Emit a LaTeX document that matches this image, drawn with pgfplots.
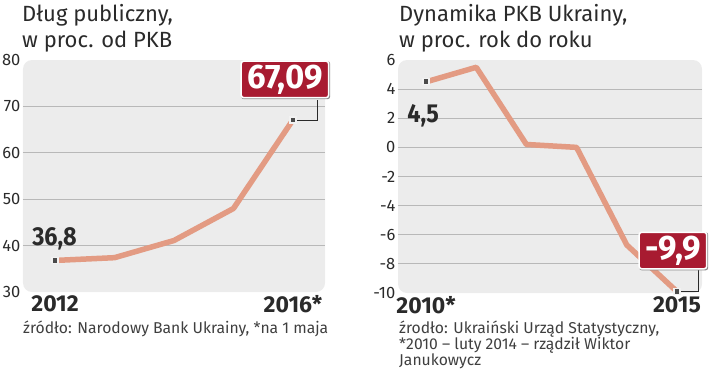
\documentclass[border=0pt]{standalone}
\usepackage{fontspec}
\setmainfont{Fira Sans}
\newfontfamily\condb[FakeStretch=0.9]{Fira Sans}
\newfontfamily\boxb[FakeStretch=0.97]{Fira Sans}
\usepackage{pgfplots}
\pgfplotsset{compat=1.18}
\definecolor{linec}{HTML}{E39B83}
\definecolor{bgc}{HTML}{ECECEC}
\definecolor{gridc}{HTML}{B8B8B8}
\definecolor{boxred}{HTML}{A81B31}
\definecolor{txt}{HTML}{2A2A2A}
\pgfplotsset{
  panel/.style={
    scale only axis, anchor=south west, clip=false,
    axis line style={draw=none},
    major tick style={draw=none}, minor tick style={draw=none},
    axis background/.style={fill=bgc, rounded corners=9bp},
    ymajorgrids, grid style={gridc, line width=0.8bp},
    extra y tick style={grid=none},
    /pgf/number format/assume math mode=true,
    yticklabel style={font=\fontsize{16.5bp}{16.5bp}\selectfont, text=txt, inner sep=2.5bp},
    xticklabel style={font=\bfseries\fontsize{23bp}{23bp}\selectfont, text=txt, inner sep=3bp},
  },
  dline/.style={linec, line width=5.5bp, line join=round},
  dmark/.style={only marks, mark=square*, mark size=3bp, mark options={fill=txt!85, draw=white!90!gray, line width=1.3bp}},
}
\tikzset{
  bigbox/.style={fill=boxred, draw=white, line width=1.5bp, rounded corners=2.5bp, text=white, inner xsep=6bp, inner ysep=3.5bp,
    font=\boxb\bfseries\fontsize{34bp}{34bp}\selectfont},
  shbox/.style={fill=black!45, draw=none, rounded corners=2.5bp, text=black!45, inner xsep=6.75bp, inner ysep=4.25bp,
    font=\boxb\bfseries\fontsize{34bp}{34bp}\selectfont},
  smlab/.style={text=txt, inner sep=0pt, font=\condb\bfseries\fontsize{26bp}{26bp}\selectfont},
  ttl/.style={anchor=base west, inner sep=0pt, text=txt, font=\fontsize{22bp}{22bp}\selectfont},
  src/.style={anchor=base west, inner sep=0pt, text=txt!90, font=\fontsize{15.7bp}{15.7bp}\selectfont},
}
\begin{document}
\begin{tikzpicture}
\path[use as bounding box] (0,0) rectangle (720bp,-371bp);
% titles
\node[ttl] at (22bp,-21bp) {Dług publiczny,};
\node[ttl] at (22bp,-47bp) {w proc. od PKB};
\node[ttl] at (399bp,-21bp) {Dynamika PKB Ukrainy,};
\node[ttl] at (399bp,-47bp) {w proc. rok do roku};
% sources
\node[src] at (23bp,-333bp) {źródło: Narodowy Bank Ukrainy, *na 1 maja};
\node[src] at (399bp,-333bp) {źrodło: Ukraiński Urząd Statystyczny,};
\node[src] at (399bp,-349bp) {*2010 – luty 2014 – rządził Wiktor};
\node[src] at (399bp,-365bp) {Janukowycz};

% left panel: x = year - 2012
\begin{axis}[panel, at={(23bp,-292bp)}, width=302bp, height=232bp,
  xmin=-0.54, xmax=4.54, ymin=30, ymax=80,
  ytick={40,50,60,70}, extra y ticks={30,80},
  xtick={0,4}, xticklabels={2012,2016*}]
\addplot[dline] coordinates {(0,36.8) (1,37.4) (2,41.1) (3,48.0) (4,67.09)};
\addplot[dmark] coordinates {(0,36.8) (4,67.09)};
\draw[txt, line width=0.8bp] ([xshift=4bp]axis cs:4,67.09) -- ([xshift=24bp]axis cs:4,67.09) -- ([xshift=24bp,yshift=20bp]axis cs:4,67.09);
\node[shbox] at ([xshift=-7.2bp, yshift=39.7bp]axis cs:4,67.09) {67,09};
\node[bigbox] at ([xshift=-8bp, yshift=40.5bp]axis cs:4,67.09) {67,09};
\node[smlab, anchor=base west] at ([xshift=-23bp, yshift=15bp]axis cs:0,36.8) {36,8};
\end{axis}

% right panel: x = year - 2010
\begin{axis}[panel, at={(398bp,-293bp)}, width=304bp, height=233bp,
  xmin=-0.56, xmax=5.5, ymin=-10, ymax=6,
  ytick={-8,-6,-4,-2,0,2,4}, extra y ticks={-10,6},
  xtick={0,5}, xticklabels={2010*,2015}]
\addplot[dline] coordinates {(0,4.5) (1,5.5) (2,0.2) (3,0.0) (4,-6.7) (5,-9.9)};
\addplot[dmark] coordinates {(0,4.5) (5,-9.9)};
\draw[txt, line width=0.8bp] ([xshift=4bp]axis cs:5,-9.9) -- ([xshift=21bp]axis cs:5,-9.9) -- ([xshift=21bp,yshift=22bp]axis cs:5,-9.9);
\node[shbox] at ([xshift=-3.2bp, yshift=40.2bp]axis cs:5,-9.9) {-9,9};
\node[bigbox] at ([xshift=-4bp, yshift=41bp]axis cs:5,-9.9) {-9,9};
\node[smlab, anchor=base west] at ([xshift=-19bp, yshift=-41bp]axis cs:0,4.5) {4,5};
\end{axis}
\end{tikzpicture}
\end{document}
